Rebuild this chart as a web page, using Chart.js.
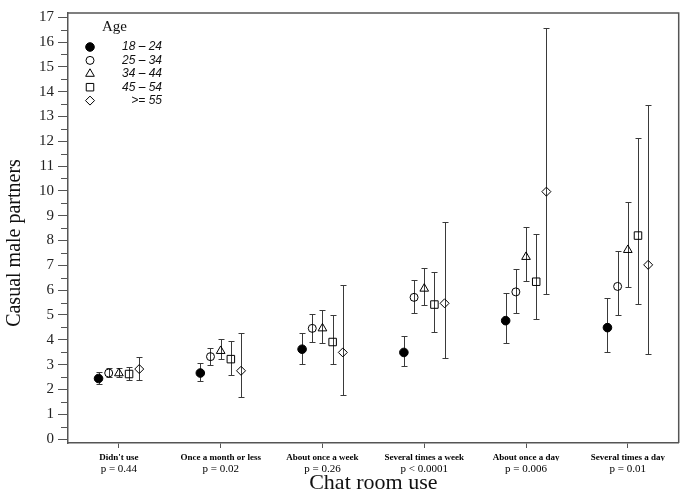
<!DOCTYPE html>
<html>
<head>
<meta charset="utf-8">
<script src="https://cdn.jsdelivr.net/npm/chart.js@4.4.1/dist/chart.umd.min.js"></script>
<style>
html,body{margin:0;padding:0;background:#fff;}
#wrap{width:685px;height:489px;}
</style>
</head>
<body>
<div id="wrap"><canvas id="chart"></canvas></div>
<script>
const categories = ["Didn't use", 'Once a month or less', 'About once a week', 'Several times a week', 'About once a day', 'Several times a day'];
const pValues = ['p = 0.44', 'p = 0.02', 'p = 0.26', 'p < 0.0001', 'p = 0.006', 'p = 0.01'];
const ageGroups = ['18 \u2013 24', '25 \u2013 34', '34 \u2013 44', '45 \u2013 54', '>= 55'];

// means and 95% CI per age group, one value per chat room category
const mean18_24 = [2.44, 2.66, 3.62, 3.49, 4.77, 4.49];
const low18_24  = [2.20, 2.33, 3.03, 2.95, 3.87, 3.50];
const high18_24 = [2.69, 3.05, 4.26, 4.16, 5.88, 5.69];

const mean25_34 = [2.66, 3.32, 4.46, 5.71, 5.93, 6.15];
const low25_34  = [2.48, 2.97, 3.92, 5.09, 5.09, 4.98];
const high25_34 = [2.86, 3.68, 5.04, 6.41, 6.87, 7.56];

const mean34_44 = [2.65, 3.55, 4.46, 6.06, 7.34, 7.62];
const low34_44  = [2.49, 3.22, 3.86, 5.39, 6.35, 6.11];
const high34_44 = [2.85, 4.05, 5.19, 6.91, 8.55, 9.55];

const mean45_54 = [2.62, 3.22, 3.91, 5.42, 6.34, 8.20];
const low45_54  = [2.36, 2.60, 3.01, 4.33, 4.82, 5.43];
const high45_54 = [2.91, 3.97, 5.00, 6.75, 8.25, 12.12];

const mean55 = [2.82, 2.75, 3.49, 5.47, 9.97, 7.02];
const low55  = [2.37, 1.68, 1.79, 3.28, 5.86, 3.44];
const high55 = [3.32, 4.29, 6.19, 8.75, 16.57, 13.48];

const groups = [
  {mean: mean18_24, low: low18_24, high: high18_24, style: 'circle', radius: 4.3, fill: '#000'},
  {mean: mean25_34, low: low25_34, high: high25_34, style: 'circle', radius: 4, fill: 'rgba(0,0,0,0)'},
  {mean: mean34_44, low: low34_44, high: high34_44, style: 'triangle', radius: 5, fill: 'rgba(0,0,0,0)'},
  {mean: mean45_54, low: low45_54, high: high45_54, style: 'rect', radius: 5.3, fill: 'rgba(0,0,0,0)'},
  {mean: mean55, low: low55, high: high55, style: 'rectRot', radius: 4.5, fill: 'rgba(0,0,0,0)'}
];

const serif = '"Liberation Serif", "DejaVu Serif", serif';
const sans = '"Liberation Sans", Arial, sans-serif';

const datasets = groups.map((g, k) => ({
  label: ageGroups[k],
  data: g.mean.map((m, i) => ({x: i + (k - 2) * 0.1, y: m, lo: g.low[i], hi: g.high[i]})),
  pointStyle: g.style,
  pointRadius: g.radius,
  pointHoverRadius: g.radius,
  backgroundColor: g.fill,
  borderColor: '#000',
  borderWidth: 1,
  showLine: false
}));

const errorBars = {
  id: 'errorBars',
  beforeDatasetsDraw(chart){
    const {ctx} = chart, xs = chart.scales.x, ys = chart.scales.y;
    ctx.save();
    ctx.strokeStyle = '#3a3a3a';
    ctx.lineWidth = 1;
    chart.data.datasets.forEach(ds => ds.data.forEach(p => {
      const x = Math.round(xs.getPixelForValue(p.x)) + 0.5;
      const y1 = Math.round(ys.getPixelForValue(p.lo)) + 0.5;
      const y2 = Math.round(ys.getPixelForValue(p.hi)) + 0.5;
      ctx.beginPath();
      ctx.moveTo(x, y1); ctx.lineTo(x, y2);
      ctx.moveTo(x - 3, y1); ctx.lineTo(x + 3, y1);
      ctx.moveTo(x - 3, y2); ctx.lineTo(x + 3, y2);
      ctx.stroke();
    }));
    ctx.restore();
  }
};

const frame = {
  id: 'frame',
  afterDraw(chart){
    const {ctx, chartArea: a} = chart, ys = chart.scales.y;
    ctx.save();
    ctx.strokeStyle = '#555';
    ctx.lineWidth = 1.5;
    ctx.beginPath();
    ctx.moveTo(a.left, a.top); ctx.lineTo(a.right, a.top); ctx.lineTo(a.right, a.bottom);
    ctx.stroke();
    // minor ticks at the half units
    ctx.lineWidth = 1;
    ctx.beginPath();
    for (let v = 0.5; v < 17; v += 1) {
      const y = Math.round(ys.getPixelForValue(v)) + 0.5;
      ctx.moveTo(a.left - 7, y); ctx.lineTo(a.left, y);
    }
    ctx.stroke();
    ctx.restore();
  }
};

const ageLegend = {
  id: 'ageLegend',
  afterDraw(chart){
    const {ctx, chartArea: a} = chart;
    ctx.save();
    ctx.fillStyle = '#111';
    ctx.textBaseline = 'middle';
    ctx.font = '15px ' + serif;
    ctx.textAlign = 'left';
    ctx.fillText('Age', a.left + 34, a.top + 14);
    ctx.font = 'italic 12px ' + sans;
    ctx.textAlign = 'right';
    chart.data.datasets.forEach((ds, i) => {
      const y = a.top + 34 + i * 13.4;
      ctx.fillStyle = ds.backgroundColor;
      ctx.strokeStyle = ds.borderColor;
      ctx.lineWidth = 1;
      Chart.helpers.drawPoint(ctx, {pointStyle: ds.pointStyle, radius: ds.pointRadius, borderWidth: 1, rotation: 0}, a.left + 22, y);
      ctx.fillStyle = '#111';
      ctx.fillText(ds.label, a.left + 94, y);
    });
    ctx.restore();
  }
};

const categoryTicks = s => { s.ticks = categories.map((c, i) => ({value: i})); };

new Chart(document.getElementById('chart'), {
  type: 'scatter',
  data: {datasets},
  plugins: [errorBars, frame, ageLegend],
  options: {
    responsive: true,
    maintainAspectRatio: false,
    animation: false,
    devicePixelRatio: 1,
    layout: {padding: {top: 3, right: 4, left: 0, bottom: 0}},
    plugins: {legend: {display: false}, tooltip: {enabled: false}},
    scales: {
      y: {
        position: 'left',
        min: -0.16, max: 17.17,
        afterFit: s => { s.width = 68; },
        ticks: {stepSize: 1, includeBounds: false, color: '#222', padding: 4, font: {family: serif, size: 15}},
        grid: {drawOnChartArea: false, tickLength: 10, color: '#555'},
        border: {color: '#555', width: 1.5},
        title: {display: true, text: 'Casual male partners\u2002\u2002\u2002', color: '#111', padding: 3, font: {family: serif, size: 20}}
      },
      x: {
        type: 'linear', position: 'bottom', weight: 0,
        min: -0.5, max: 5.5,
        afterBuildTicks: categoryTicks,
        afterFit: s => { s.height = 18; },
        ticks: {autoSkip: false, maxRotation: 0, padding: 4, color: '#000',
          font: {family: serif, size: 9, weight: 'bold'},
          callback: v => categories[Math.round(v)] ?? ''},
        grid: {drawOnChartArea: false, tickLength: 5, color: '#555'},
        border: {color: '#555', width: 1.5}
      },
      x2: {
        type: 'linear', position: 'bottom', weight: 1,
        min: -0.5, max: 5.5,
        afterBuildTicks: categoryTicks,
        afterFit: s => { s.height = 28; },
        ticks: {autoSkip: false, maxRotation: 0, padding: 2, color: '#000',
          font: {family: serif, size: 11},
          callback: v => pValues[Math.round(v)] ?? ''},
        grid: {display: false, drawTicks: false},
        border: {display: false},
        title: {display: true, text: 'Chat room use', color: '#111', padding: {top: -5, bottom: -5}, font: {family: serif, size: 22, lineHeight: 1}}
      }
    }
  }
});
</script>
</body>
</html>
